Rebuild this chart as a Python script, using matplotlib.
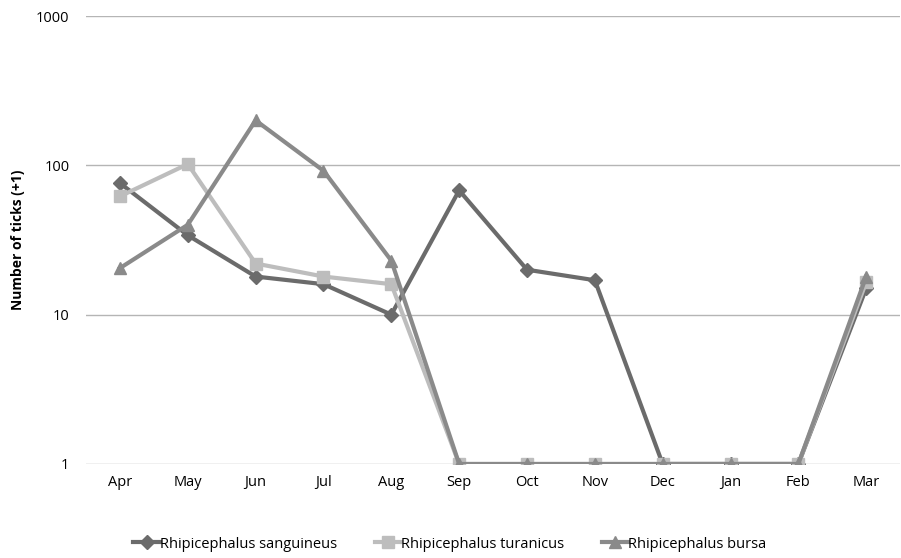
import numpy as np
import matplotlib.pyplot as plt

plt.rcParams['font.family'] = ['Open Sans', 'DejaVu Sans']

# Monate und Zeckenzahlen (+1)
months = ["Apr", "May", "Jun", "Jul", "Aug", "Sep", "Oct", "Nov", "Dec", "Jan", "Feb", "Mar"]
sanguineus = [76, 34, 18, 16, 10, 68, 20, 17, 1, 1, 1, 15]
turanicus = [62, 102, 22, 18, 16, 1, 1, 1, 1, 1, 1, 16.5]
bursa = [20.5, 40, 200, 92, 23, 1, 1, 1, 1, 1, 1, 18]

x = np.arange(len(months))

fig = plt.figure(figsize=(9.01, 5.58), dpi=100)
ax = fig.add_axes([0.0955, 0.1685, 0.9035, 0.8028])

ax.plot(x, sanguineus, color="#6b6b6b", lw=3, marker="D", ms=7, label="Rhipicephalus sanguineus", zorder=3)
ax.plot(x, turanicus, color="#bdbdbd", lw=3, marker="s", ms=8, label="Rhipicephalus turanicus", zorder=3)
ax.plot(x, bursa, color="#8a8a8a", lw=3, marker="^", ms=8, label="Rhipicephalus bursa", zorder=3)

# Achsen
ax.set_yscale("log")
ax.set_ylim(1, 1000)
ax.set_xlim(-0.5, len(months) - 0.5)
ax.set_yticks([1, 10, 100, 1000])
ax.set_yticklabels(["1", "10", "100", "1000"])
ax.minorticks_off()
ax.set_xticks(x)
ax.set_xticklabels(months)
ax.tick_params(length=0, labelsize=10.5, pad=12)
ax.tick_params(axis="x", pad=8)
ax.grid(axis="y", color="#b5b5b5", lw=1)
for s in ax.spines.values():
    s.set_visible(False)
ax.set_ylabel("Number of ticks (+1)", fontweight="bold", fontsize=10, labelpad=8)

# Legende unten
fig.legend(loc="center", bbox_to_anchor=(450 / 901, 1 - 544 / 558), ncol=3, frameon=False,
           fontsize=10.5, handlelength=1.8, handletextpad=0.0, columnspacing=2.6)

plt.savefig("out.png", dpi=100)
